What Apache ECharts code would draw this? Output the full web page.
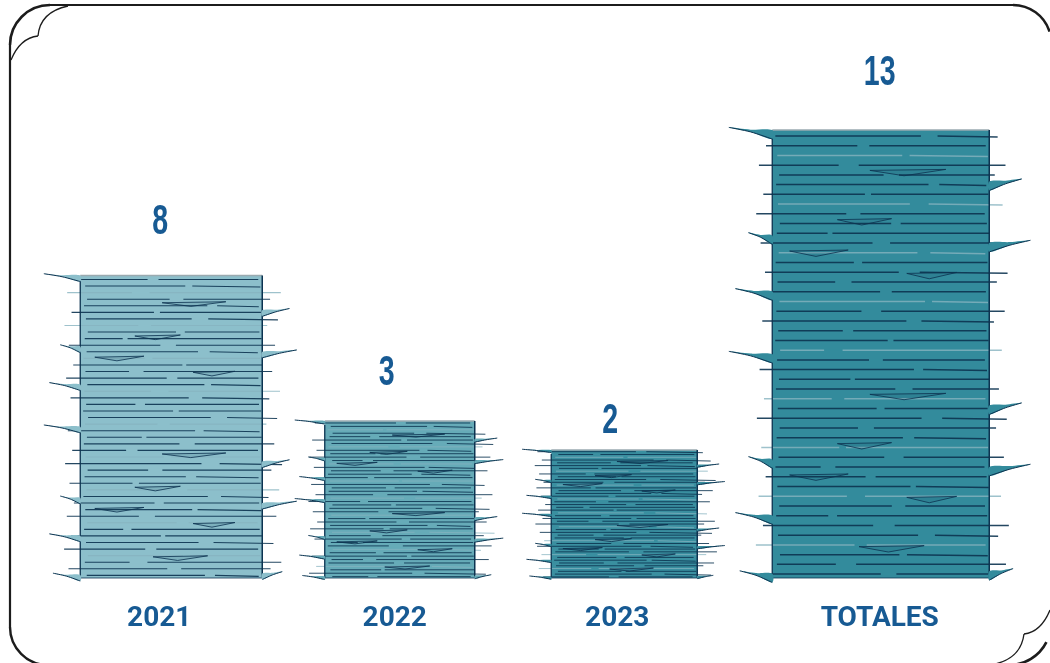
<!DOCTYPE html>
<html>
<head>
<meta charset="utf-8">
<script src="https://cdn.jsdelivr.net/npm/echarts@6/dist/echarts.min.js"></script>
<style>
  html, body { margin: 0; padding: 0; background: #ffffff; overflow: hidden; }
  #chart { width: 1050px; height: 663px; }
</style>
</head>
<body>
<div id="chart"></div>
<script>
// ---- data ----
const categories = ['2021', '2022', '2023', 'TOTALES'];
const values = [8, 3, 2, 13];

// ---- axis range (visual baseline below zero, as in the infographic) ----
const Y_MIN = -2.4;
const Y_MAX = 14;

// ---- styles ----
const BAR_COLORS = ['#8cbfcb', '#66abb8', '#3a8fa0', '#338b9c'];
const BAR_WIDTHS = [182, 150, 146, 217];
const BAR_SHIFTS = [0, -8, -20, 0];
const VAL_X_SHIFT = [-11, -13, -14, -1];
const VAL_GAP = [53, 48, 29, 57];
const CAT_PAD = [24, 26, 54, 2];
const TEXT_BLUE = '#175a93';
const LINE_DARK = '#0c3350';
const LINE_LIGHT = '#86b3bf';
const ROWS = 46;
// spikes: side, position as fraction of bar height, length as fraction of bar width
const SPIKES = [
  ['L', 0.000, 0.20], ['L', 0.235, 0.11], ['L', 0.360, 0.17],
  ['R', 0.115, 0.15], ['R', 0.252, 0.19],
  ['L', 0.500, 0.20], ['L', 0.735, 0.11], ['L', 0.860, 0.17],
  ['R', 0.615, 0.15], ['R', 0.752, 0.19],
  ['L', 0.990, 0.15], ['R', 0.985, 0.11]
];
// inner wedge marks: fraction of height, start and end as fraction of width
const WEDGES = [
  [0.09, 0.45, 0.80], [0.20, 0.30, 0.55], [0.27, 0.08, 0.35],
  [0.32, 0.62, 0.85], [0.59, 0.45, 0.80], [0.70, 0.30, 0.55],
  [0.77, 0.08, 0.35], [0.82, 0.62, 0.85], [0.93, 0.40, 0.70]
];

function frac(x) { return x - Math.floor(x); }

function renderItem(params, api) {
  const i = api.value(0);
  const v = api.value(1);
  const pTop = api.coord([i, v]);
  const pBase = api.coord([i, Y_MIN]);
  const cx = pTop[0] + BAR_SHIFTS[i];
  const w = BAR_WIDTHS[i];
  const x0 = cx - w / 2, x1 = cx + w / 2;
  const top = pTop[1], bottom = pBase[1], h = bottom - top;
  const color = BAR_COLORS[i];
  const ch = [];

  ch.push({ type: 'rect', silent: true, shape: { x: x0, y: top, width: w, height: h }, style: { fill: color } });

  // texture rows
  const step = h / ROWS;
  const lw = Math.min(1.5, Math.max(0.95, step * 0.17));
  for (let k = 0; k < ROWS; k++) {
    const y = top + (k + 0.6) * step;
    const r1 = frac(k * 0.618 + i * 0.13);
    const r2 = frac(k * 0.414 + 0.3 + i * 0.21);
    const r3 = frac(k * 0.732 + 0.5 + i * 0.07);
    const start = r1 < 0.35 ? x0 - (6 + r1 * 30) : x0 + r1 * 8;
    const gapStart = x0 + (0.22 + r2 * 0.5) * w;
    const gapEnd = gapStart + (0.02 + r3 * 0.08) * w;
    const end = r3 > 0.6 ? x1 + 4 + (r3 - 0.6) * 40 : x1 - r3 * 8;
    const light = (k % 5 === 2);
    const stroke = light ? LINE_LIGHT : LINE_DARK;
    const op = light ? 0.8 : 0.9;
    ch.push({ type: 'line', silent: true, shape: { x1: start, y1: y, x2: gapStart, y2: y }, style: { stroke: stroke, lineWidth: lw, opacity: op } });
    ch.push({ type: 'line', silent: true, shape: { x1: gapEnd, y1: y, x2: end, y2: y + (r2 > 0.7 ? 1 : 0) }, style: { stroke: stroke, lineWidth: lw, opacity: op } });
  }

  // wedges (thin slivers)
  const t = Math.max(2, Math.min(6, h * 0.012));
  WEDGES.forEach(function (wd) {
    const y = top + wd[0] * h;
    const xa = x0 + wd[1] * w, xb = x0 + wd[2] * w, xm = xa + (xb - xa) * 0.45;
    ch.push({ type: 'polygon', silent: true, shape: { points: [[xa, y], [xm, y + t], [xb, y - 1]] }, style: { stroke: LINE_DARK, lineWidth: 0.9, fill: 'rgba(12,51,80,0.12)', opacity: 0.9 } });
  });

  // edges
  ch.push({ type: 'line', silent: true, shape: { x1: x0, y1: top, x2: x1, y2: top }, style: { stroke: '#9aaab0', lineWidth: 1.5 } });
  ch.push({ type: 'line', silent: true, shape: { x1: x0, y1: top + 4, x2: x0, y2: bottom }, style: { stroke: LINE_DARK, lineWidth: 1.3 } });
  ch.push({ type: 'line', silent: true, shape: { x1: x1, y1: top, x2: x1, y2: bottom }, style: { stroke: LINE_DARK, lineWidth: 1.5 } });
  ch.push({ type: 'line', silent: true, shape: { x1: x0, y1: bottom, x2: x1, y2: bottom }, style: { stroke: LINE_DARK, lineWidth: 1.2, opacity: 0.8 } });

  // spikes (slim leaf-like slivers)
  const th = Math.max(2.5, Math.min(9, h * 0.02));
  SPIKES.forEach(function (s) {
    const y = top + s[1] * h;
    const L = s[2] * w;
    let pts, edge;
    if (s[0] === 'L') {
      pts = [[x0 - L, y - th * 0.3], [x0 - L * 0.5, y - th * 0.05], [x0, y], [x0, y + th], [x0 - L * 0.5, y + th * 0.2]];
      edge = [[x0 - L, y - th * 0.3], [x0 - L * 0.5, y + th * 0.2], [x0, y + th]];
    } else {
      pts = [[x1, y], [x1 + L * 0.5, y - th * 0.1], [x1 + L, y - th * 0.3], [x1 + L * 0.5, y + th * 0.25], [x1, y + th]];
      edge = [[x1 + L, y - th * 0.3], [x1 + L * 0.5, y + th * 0.25], [x1, y + th]];
    }
    ch.push({ type: 'polygon', silent: true, shape: { points: pts, smooth: 0.3 }, style: { fill: color } });
    ch.push({ type: 'polyline', silent: true, shape: { points: edge, smooth: 0.3 }, style: { stroke: LINE_DARK, lineWidth: 1, fill: null } });
  });

  // value label (condensed by horizontal scaling)
  const lx = cx + VAL_X_SHIFT[i];
  const ly = top - VAL_GAP[i];
  ch.push({
    type: 'text', silent: true,
    x: lx, y: ly, scaleX: 0.68, scaleY: 1,
    style: {
      text: String(v),
      x: 0, y: 0,
      align: 'center', verticalAlign: 'middle',
      fill: TEXT_BLUE,
      fontSize: 42, fontWeight: 'bold',
      fontFamily: '"Liberation Sans", Arial, sans-serif'
    }
  });

  return { type: 'group', children: ch };
}

const rich = {};
categories.forEach(function (c, idx) {
  rich['c' + idx] = {
    color: TEXT_BLUE, fontSize: 28, fontWeight: 'bold',
    fontFamily: 'Roboto, "Liberation Sans", Arial, sans-serif',
    padding: [0, CAT_PAD[idx], 0, 0]
  };
});

const FRAME = '#1c1c1c';
const option = {
  backgroundColor: '#ffffff',
  animation: false,
  grid: { left: 53, right: 51, top: 101, bottom: 85 },
  xAxis: {
    type: 'category',
    data: categories,
    axisLine: { show: false },
    axisTick: { show: false },
    splitLine: { show: false },
    axisLabel: {
      margin: 27,
      formatter: function (val, idx) { return '{c' + idx + '|' + val + '}'; },
      rich: rich
    }
  },
  yAxis: {
    type: 'value', min: Y_MIN, max: Y_MAX, show: false,
    splitLine: { show: false }
  },
  series: [{
    type: 'custom',
    renderItem: renderItem,
    data: values.map(function (v, i) { return [i, v]; }),
    encode: { x: 0, y: 1 },
    clip: false,
    silent: true
  }],
  graphic: [
    { type: 'line', silent: true, shape: { x1: 50, y1: 5, x2: 1013, y2: 5 }, style: { stroke: FRAME, lineWidth: 2.2 } },
    { type: 'line', silent: true, shape: { x1: 10, y1: 45, x2: 10, y2: 627 }, style: { stroke: FRAME, lineWidth: 2.2 } },
    { type: 'arc', silent: true, shape: { cx: 50, cy: 45, r: 40, startAngle: Math.PI, endAngle: Math.PI * 1.5, clockwise: true }, style: { stroke: FRAME, lineWidth: 2.6, fill: null } },
    { type: 'arc', silent: true, shape: { cx: 1013, cy: 43.4, r: 38.4, startAngle: Math.PI * 1.5, endAngle: Math.PI * 1.9, clockwise: true }, style: { stroke: FRAME, lineWidth: 2.4, fill: null } },
    { type: 'arc', silent: true, shape: { cx: 48, cy: 627, r: 38, startAngle: Math.PI * 0.5, endAngle: Math.PI, clockwise: true }, style: { stroke: FRAME, lineWidth: 2.4, fill: null } },
    { type: 'arc', silent: true, shape: { cx: 1009, cy: 623, r: 42, startAngle: Math.PI * 0.15, endAngle: Math.PI * 0.5, clockwise: true }, style: { stroke: FRAME, lineWidth: 2.6, fill: null } },
    { type: 'bezierCurve', silent: true, shape: { x1: 11, y1: 60, cpx1: 20, cpy1: 38, x2: 38, y2: 36 }, style: { stroke: FRAME, lineWidth: 1.3, fill: null } },
    { type: 'bezierCurve', silent: true, shape: { x1: 38, y1: 36, cpx1: 40, cpy1: 12, x2: 68, y2: 6 }, style: { stroke: FRAME, lineWidth: 1.3, fill: null } },
    { type: 'bezierCurve', silent: true, shape: { x1: 1050, y1: 610, cpx1: 1041, cpy1: 632, x2: 1024, y2: 634 }, style: { stroke: FRAME, lineWidth: 1.3, fill: null } },
    { type: 'bezierCurve', silent: true, shape: { x1: 1024, y1: 634, cpx1: 1021, cpy1: 658, x2: 995, y2: 664 }, style: { stroke: FRAME, lineWidth: 1.3, fill: null } }
  ]
};

const chart = echarts.init(document.getElementById('chart'), null, { renderer: 'canvas' });
chart.setOption(option);
</script>
</body>
</html>
